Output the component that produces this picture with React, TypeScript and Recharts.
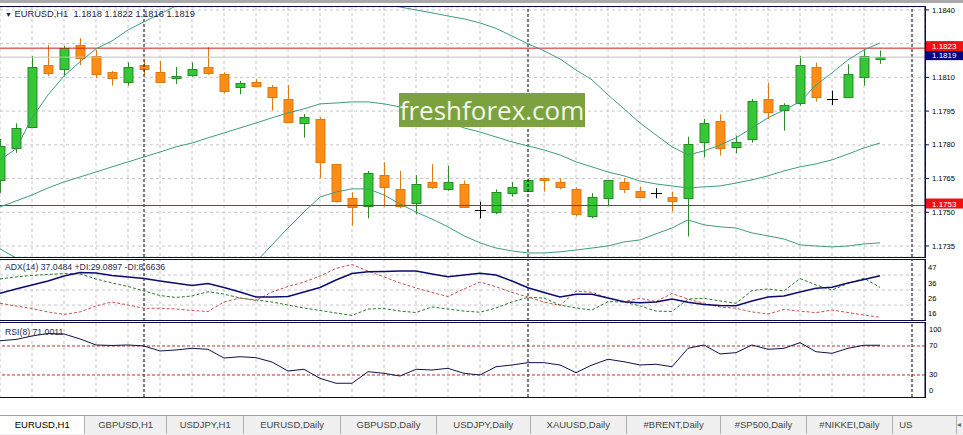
import React from "react";
import { ComposedChart, Bar, Line, XAxis, YAxis, CartesianGrid, ReferenceLine } from "recharts";

const FONT = "'Liberation Sans', Arial, sans-serif";

// time labels, one per 4 bars
const times = [
  "21 Aug 2017", "21 Aug 19:00", "21 Aug 23:00", "22 Aug 03:00", "22 Aug 07:00",
  "22 Aug 11:00", "22 Aug 15:00", "22 Aug 19:00", "22 Aug 23:00", "23 Aug 03:00",
  "23 Aug 07:00", "23 Aug 11:00", "23 Aug 15:00", "23 Aug 19:00",
];

// EURUSD H1 candles
const open = [1.17644, 1.17785, 1.17881, 1.18155, 1.18136, 1.18244, 1.18195, 1.18124, 1.18081, 1.18155, 1.18124, 1.18096, 1.18111, 1.18145, 1.18115, 1.18056, 1.18081, 1.18056, 1.18003, 1.17896, 1.17914, 1.17714, 1.17562, 1.17529, 1.17665, 1.17602, 1.17543, 1.17634, 1.17602, 1.17625, 1.1751, 1.17503, 1.17585, 1.17595, 1.17651, 1.17634, 1.17602, 1.17484, 1.17562, 1.17634, 1.17595, 1.17585, 1.17569, 1.17562, 1.17811, 1.17906, 1.17792, 1.17825, 1.18004, 1.17955, 1.17985, 1.18145, 1.18003, 1.18014, 1.18103, 1.1818];
const high = [1.17826, 1.17896, 1.18195, 1.18244, 1.1824, 1.18274, 1.18222, 1.18129, 1.18166, 1.18174, 1.18174, 1.18146, 1.18166, 1.18235, 1.18123, 1.18084, 1.18093, 1.18066, 1.18066, 1.17937, 1.17923, 1.17715, 1.17589, 1.17684, 1.17723, 1.17684, 1.17665, 1.17714, 1.17706, 1.17641, 1.17547, 1.17602, 1.17634, 1.17645, 1.17653, 1.17651, 1.17611, 1.17585, 1.17644, 1.17651, 1.17614, 1.17607, 1.17592, 1.17836, 1.17915, 1.17936, 1.17841, 1.18004, 1.18077, 1.17985, 1.18195, 1.18166, 1.18041, 1.18158, 1.18225, 1.1822];
const low = [1.17586, 1.17764, 1.17875, 1.18106, 1.18103, 1.18155, 1.18096, 1.18063, 1.18063, 1.18111, 1.18078, 1.18071, 1.18103, 1.18111, 1.18029, 1.18025, 1.18056, 1.17952, 1.179, 1.17832, 1.17651, 1.17543, 1.1744, 1.17473, 1.17525, 1.17518, 1.17491, 1.17604, 1.17595, 1.17525, 1.17473, 1.17491, 1.17569, 1.17592, 1.17592, 1.17602, 1.17481, 1.17473, 1.17529, 1.17585, 1.17562, 1.17562, 1.17503, 1.17392, 1.17745, 1.17752, 1.17763, 1.1781, 1.17914, 1.17863, 1.17974, 1.17992, 1.17977, 1.18014, 1.18063, 1.1816];
const close = [1.17795, 1.17874, 1.18145, 1.18121, 1.18232, 1.18185, 1.18115, 1.18096, 1.18145, 1.18136, 1.18081, 1.18106, 1.18136, 1.18121, 1.18041, 1.18074, 1.18063, 1.18014, 1.17903, 1.17923, 1.17723, 1.17552, 1.17525, 1.17674, 1.17611, 1.17529, 1.17625, 1.17611, 1.17634, 1.17525, 1.1751, 1.17592, 1.17611, 1.17642, 1.17642, 1.17611, 1.17491, 1.17569, 1.17642, 1.17602, 1.17569, 1.17585, 1.17552, 1.17803, 1.17896, 1.17785, 1.17811, 1.17995, 1.17945, 1.17977, 1.18155, 1.18014, 1.18003, 1.18115, 1.18195, 1.1819];

// bands
const bandUp = [1.17733, 1.17782, 1.1792, 1.18022, 1.18106, 1.18169, 1.18227, 1.18262, 1.18311, 1.18347, 1.18382, 1.18418, 1.18462, 1.18489, 1.18511, 1.18525, 1.18533, 1.18533, 1.18525, 1.18511, 1.18489, 1.18471, 1.18453, 1.1844, 1.18427, 1.18413, 1.184, 1.18387, 1.18373, 1.1836, 1.18342, 1.18318, 1.18284, 1.18249, 1.18218, 1.18182, 1.18133, 1.18089, 1.18022, 1.1796, 1.17897, 1.17844, 1.17791, 1.17755, 1.17773, 1.17799, 1.17831, 1.17875, 1.1792, 1.17955, 1.17991, 1.18066, 1.1812, 1.18178, 1.18222, 1.18253];
const bandMid = [1.17524, 1.1755, 1.17577, 1.17608, 1.17635, 1.17657, 1.17679, 1.17702, 1.17724, 1.17746, 1.17768, 1.17791, 1.17808, 1.17831, 1.17853, 1.17875, 1.17897, 1.1792, 1.17942, 1.1796, 1.17982, 1.17986, 1.17991, 1.17991, 1.17982, 1.17969, 1.17946, 1.17924, 1.17902, 1.17875, 1.17857, 1.17835, 1.17813, 1.17795, 1.17777, 1.17755, 1.17724, 1.17702, 1.17679, 1.17662, 1.17639, 1.17626, 1.17617, 1.17608, 1.17613, 1.17617, 1.1763, 1.17644, 1.17662, 1.17684, 1.17702, 1.17715, 1.17733, 1.17759, 1.17786, 1.17808];
const bandLow = [1.17337, 1.17297, 1.17235, 1.17194, 1.17163, 1.17137, 1.17119, 1.17119, 1.17114, 1.17137, 1.17154, 1.17163, 1.17177, 1.1719, 1.17208, 1.17235, 1.17279, 1.17355, 1.1743, 1.17501, 1.17568, 1.1759, 1.17604, 1.17604, 1.17577, 1.17537, 1.17501, 1.1747, 1.17435, 1.17395, 1.17364, 1.17341, 1.17328, 1.17319, 1.17319, 1.17324, 1.17332, 1.17341, 1.1735, 1.17368, 1.17377, 1.17404, 1.1743, 1.17466, 1.17444, 1.17435, 1.1743, 1.17408, 1.17395, 1.17381, 1.17355, 1.1735, 1.17346, 1.1735, 1.17359, 1.17364];

// ADX(14)
const adx = [25.0, 28.0, 30.7, 33.4, 36.8, 39.2, 38.9, 37.2, 36.2, 35.1, 33.4, 31.9, 30.4, 31.7, 29.0, 25.9, 22.5, 22.5, 22.8, 25.9, 29.0, 34.1, 38.5, 39.8, 39.9, 40.2, 40.2, 38.2, 36.4, 37.5, 38.7, 37.5, 33.4, 28.8, 25.6, 22.5, 24.3, 24.3, 21.8, 19.3, 18.5, 19.1, 21.1, 18.9, 17.4, 16.7, 16.6, 19.8, 22.5, 23.2, 25.9, 28.4, 29.1, 32.1, 34.4, 37.0];
const plusDi = [34.8, 36.2, 37.2, 37.9, 38.5, 38.2, 34.8, 32.1, 29.7, 26.6, 23.5, 22.2, 23.2, 26.1, 24.5, 21.8, 20.5, 19.1, 17.0, 15.0, 13.3, 11.6, 9.9, 14.3, 14.6, 12.9, 11.9, 15.7, 14.3, 12.9, 12.1, 15.0, 19.1, 22.3, 21.8, 17.0, 15.0, 13.6, 19.3, 19.1, 16.4, 12.9, 12.6, 21.1, 21.6, 19.8, 18.2, 26.9, 28.0, 26.6, 35.1, 30.7, 27.3, 31.7, 35.3, 29.1];
const minusDi = [18.2, 16.4, 14.6, 12.3, 10.6, 12.3, 16.4, 19.1, 17.0, 14.8, 14.8, 14.3, 13.3, 12.6, 19.1, 21.8, 20.1, 25.9, 29.7, 32.7, 36.8, 42.0, 44.7, 40.2, 36.2, 32.1, 28.6, 25.6, 22.8, 28.0, 32.7, 29.5, 25.6, 22.5, 19.1, 16.7, 26.6, 25.7, 21.8, 19.4, 21.6, 19.4, 24.9, 21.1, 18.2, 15.7, 14.8, 12.3, 10.9, 14.0, 12.9, 11.8, 13.6, 11.9, 10.2, 8.7];

// RSI(8)
const rsi = [77.3, 79.0, 83.8, 87.2, 86.6, 79.7, 71.4, 70.7, 71.4, 70.0, 63.1, 64.5, 66.8, 65.4, 53.4, 55.2, 53.9, 47.9, 35.5, 37.9, 25.4, 18.6, 18.6, 34.6, 32.3, 28.6, 37.9, 36.9, 39.2, 32.3, 30.0, 41.4, 43.8, 47.0, 47.0, 43.8, 33.2, 43.8, 51.7, 48.3, 43.8, 44.8, 41.4, 66.8, 71.4, 59.0, 60.8, 71.4, 65.4, 66.8, 74.6, 62.1, 59.9, 66.8, 71.0, 71.0];

const priceTicks = [1.1735, 1.175, 1.1765, 1.178, 1.1795, 1.181, 1.1825, 1.184];
const adxTicks = [16, 26, 36, 47];
const adxGrid = [17, 27.3, 37.5];
const rsiTicks = [0, 30, 70, 100];
const rsiLevels = [30, 70];
const daySeparators = [9, 33, 57];
const redLevels = [1.1823, 1.1753];
const bid = 1.1819;
const tagValues = [1.1753, 1.1819, 1.1823];

const tabs = ["EURUSD,H1", "GBPUSD,H1", "USDJPY,H1", "EURUSD,Daily", "GBPUSD,Daily", "USDJPY,Daily", "XAUUSD,Daily", "#BRENT,Daily", "#SP500,Daily", "#NIKKEI,Daily", "US"];
const tabWidths = [86, 82, 78, 97, 97, 94, 97, 95, 86, 87, 64];

const rows = open.map((o, i) => ({
  i, o, h: high[i], l: low[i], c: close[i],
  up: bandUp[i], mid: bandMid[i], lo: bandLow[i],
  adx: adx[i], pdi: plusDi[i], mdi: minusDi[i], rsi: rsi[i],
}));

const X_DOMAIN = [0, 57.8125];
const gridTicks = rows.filter((r) => r.i % 2 === 0).map((r) => r.i);
const labelTicks = times.map((_, k) => k * 4);
const NAVY = "#0a0a46";
const GRID = "#c6c6c6";
const BAND = "#3f9d7c";

function Candle(props: any) {
  const { x, y, width, height, payload } = props;
  if (!payload || height == null) return null;
  const { o, h, l, c } = payload;
  const k = height / (h - l || 1e-9);
  const cx = Math.round(x + width / 2) + 0.5;
  const yo = y + (h - o) * k;
  const yc = y + (h - c) * k;
  if (o === c) {
    const yy = Math.round(yo) + 0.5;
    return (
      <g>
        <line x1={cx} x2={cx} y1={y} y2={y + height} stroke="#000" />
        <line x1={cx - 5.5} x2={cx + 5.5} y1={yy} y2={yy} stroke="#000" />
      </g>
    );
  }
  const up = c > o;
  const edge = up ? "#2a8a2a" : "#df7a10";
  const fill = up ? "#35c735" : "#ff8c14";
  const top = Math.round(Math.min(yo, yc)) + 0.5;
  const bot = Math.round(Math.max(yo, yc)) + 0.5;
  return (
    <g>
      <line x1={cx} x2={cx} y1={y} y2={y + height} stroke={edge} />
      <rect x={cx - 4.5} y={top} width={9} height={Math.max(bot - top, 1)} fill={fill} stroke={edge} />
    </g>
  );
}

// price tags: drawn as the ticks of a thin axis right of the price scale
function TagTick(props: any) {
  const { x, y, payload } = props;
  const v = payload.value;
  const bg = v === bid ? "#000080" : "#f01010";
  return (
    <g>
      <rect x={x - 36} y={y - 7} width={38} height={10} fill={bg} />
      <text x={x - 29} y={y + 1} fill="#fff" fontSize={8} fontFamily={FONT}>{v.toFixed(4)}</text>
    </g>
  );
}

const SideTick = (dy: number) => (props: any) => {
  const { x, y, payload } = props;
  return (
    <text x={x} y={y + dy} fontSize={7.5} fontFamily={FONT} fill="#000" textAnchor="start" dominantBaseline="middle">
      {payload.value}
    </text>
  );
};

function RsiTick(props: any) {
  const { x, y, payload } = props;
  const dy = payload.value === 100 ? 6 : payload.value === 0 ? -6 : 0;
  return (
    <text x={x} y={y + dy} fontSize={7.5} fontFamily={FONT} fill="#000" textAnchor="start" dominantBaseline="middle">
      {payload.value}
    </text>
  );
}

function TimeTick(props: any) {
  const { x, y, payload } = props;
  return (
    <text x={x + 1} y={y + 6} fontSize={7.5} fontFamily={FONT} fill="#000" textAnchor="start">
      {times[payload.value / 4]}
    </text>
  );
}

const seps = (id?: string) =>
  daySeparators.map((d) => (
    <ReferenceLine key={"s" + d} x={d} xAxisId={id ?? 0} stroke="#000" strokeDasharray="3 2" ifOverflow="hidden" />
  ));

export default function App() {
  const box = (top: number, height: number) => ({
    position: "absolute" as const, left: -1, top, width: 927, height,
    border: `1px solid ${NAVY}`, boxSizing: "border-box" as const, pointerEvents: "none" as const,
  });
  const PRICE_DOMAIN = [1.17301, 1.18413];
  return (
    <div style={{ position: "fixed", left: 0, top: 0, width: 963, height: 435, background: "#fff", overflow: "hidden", fontFamily: FONT }}>
      <div style={{ position: "absolute", left: 0, top: 0, width: 963, height: 3, background: "#a9a9a9" }} />

      {/* main price panel */}
      <div style={{ position: "absolute", left: 0, top: 0 }}>
        <ComposedChart width={963} height={258} data={rows} margin={{ top: 7, right: 0, bottom: 1, left: 0 }}>
          <CartesianGrid stroke={GRID} strokeDasharray="3 3" />
          <XAxis dataKey="i" type="number" domain={X_DOMAIN} ticks={gridTicks} hide allowDataOverflow />
          <YAxis
            orientation="right" width={36} domain={PRICE_DOMAIN} ticks={priceTicks} interval={0}
            allowDataOverflow tickFormatter={(v: number) => v.toFixed(4)}
            tick={{ fontSize: 7.5, fill: "#000", fontFamily: FONT }} tickSize={4} tickMargin={3}
            axisLine={{ stroke: NAVY }} tickLine={{ stroke: NAVY }}
          />
          <YAxis
            yAxisId="tags" orientation="right" width={2} domain={PRICE_DOMAIN} ticks={tagValues} interval={0}
            allowDataOverflow tick={<TagTick />} tickSize={0} tickMargin={0} axisLine={false} tickLine={false}
          />
          {seps()}
          <ReferenceLine y={bid} stroke="#c0c0c0" />
          {redLevels.map((v) => (
            <ReferenceLine key={v} y={v} stroke="#d21a1a" />
          ))}
          <Line dataKey="up" stroke={BAND} dot={false} strokeWidth={1} isAnimationActive={false} />
          <Line dataKey="mid" stroke={BAND} dot={false} strokeWidth={1} isAnimationActive={false} />
          <Line dataKey="lo" stroke={BAND} dot={false} strokeWidth={1} isAnimationActive={false} />
          <Bar dataKey={(d: any) => [d.l, d.h]} barSize={10} shape={<Candle />} isAnimationActive={false} />
        </ComposedChart>
      </div>
      <div style={box(6, 252)} />
      <div style={{ position: "absolute", left: 5, top: 9, fontSize: 9.3, color: "#1c1c4a", whiteSpace: "pre" }}>
        <span style={{ fontSize: 7 }}>▼</span> EURUSD,H1  1.1818 1.1822 1.1816 1.1819
      </div>
      <div style={{ position: "absolute", left: 399, top: 93, width: 186, height: 34, background: "#7ba23e", color: "#f2f6e8", fontFamily: "'Open Sans', sans-serif", fontSize: 26, lineHeight: "34px", textAlign: "center" }}>
        freshforex.com
      </div>

      {/* ADX panel */}
      <div style={{ position: "absolute", left: 0, top: 259 }}>
        <ComposedChart width={963} height={62} data={rows} margin={{ top: 0, right: 0, bottom: 0, left: 0 }}>
          <CartesianGrid stroke={GRID} strokeDasharray="3 3" horizontalValues={adxGrid} />
          <XAxis dataKey="i" type="number" domain={X_DOMAIN} ticks={gridTicks} hide allowDataOverflow />
          <YAxis orientation="right" width={38} domain={[6.12, 48.43]} ticks={adxTicks} interval={0} allowDataOverflow
            tick={SideTick(7)} tickSize={0} tickMargin={3} axisLine={{ stroke: NAVY }} />
          {seps()}
          <Line dataKey="pdi" stroke="#2a7a2a" strokeDasharray="3 2" dot={false} strokeWidth={1} isAnimationActive={false} />
          <Line dataKey="mdi" stroke="#c85050" strokeDasharray="3 2" dot={false} strokeWidth={1} isAnimationActive={false} />
          <Line dataKey="adx" stroke="#0b0b6e" dot={false} strokeWidth={1.5} isAnimationActive={false} />
        </ComposedChart>
      </div>
      <div style={box(259, 62)} />
      <div style={{ position: "absolute", left: 5, top: 262, fontSize: 8.7, color: "#2a2a4a", whiteSpace: "pre" }}>
        ADX(14) 37.0484 +DI:29.0897 -DI:8.6636
      </div>

      {/* RSI panel + time axis */}
      <div style={{ position: "absolute", left: 0, top: 323 }}>
        <ComposedChart width={963} height={94} data={rows} margin={{ top: 0, right: 0, bottom: 0, left: 0 }}>
          <CartesianGrid stroke={GRID} strokeDasharray="3 3" xAxisId="g" horizontal={false} />
          <XAxis xAxisId="g" dataKey="i" type="number" domain={X_DOMAIN} ticks={gridTicks} hide allowDataOverflow />
          <XAxis xAxisId="t" dataKey="i" type="number" domain={X_DOMAIN} ticks={labelTicks} interval={0} allowDataOverflow
            height={20} tick={<TimeTick />} tickSize={3} axisLine={{ stroke: NAVY }} tickLine={{ stroke: NAVY }} />
          <YAxis orientation="right" width={38} domain={[-0.34, 101.7]} ticks={rsiTicks} interval={0} allowDataOverflow
            tick={<RsiTick />} tickSize={0} tickMargin={4} axisLine={{ stroke: NAVY }} />
          {seps("t")}
          {rsiLevels.map((v) => (
            <ReferenceLine key={v} y={v} xAxisId="t" stroke="#b83030" strokeDasharray="3 2" />
          ))}
          <Line xAxisId="t" dataKey="rsi" stroke="#10104a" dot={false} strokeWidth={1} isAnimationActive={false} />
        </ComposedChart>
      </div>
      <div style={box(322, 76)} />
      <div style={{ position: "absolute", left: 5, top: 327, fontSize: 8.7, color: "#2a2a4a", whiteSpace: "pre" }}>
        RSI(8) 71.0011
      </div>

      {/* symbol tabs */}
      <div style={{ position: "absolute", left: 0, top: 415, width: 963, height: 19, background: "#f0f0f0", borderTop: "1px solid #a0a0a0", display: "flex", fontSize: 9.5, color: "#333" }}>
        {tabs.map((t, k) => (
          <div key={t} style={{
            width: tabWidths[k], height: 18, lineHeight: "17px", textAlign: k === tabs.length - 1 ? "left" : "center",
            paddingLeft: k === tabs.length - 1 ? 6 : 0, boxSizing: "border-box",
            background: k === 0 ? "#fff" : "transparent", borderRight: "1px solid #b0b0b0",
            color: k === 0 ? "#000" : "#444",
          }}>{t}</div>
        ))}
        <div style={{ flex: 1, lineHeight: "17px", fontSize: 8, color: "#666" }}>◂ &nbsp;▸</div>
      </div>
    </div>
  );
}
